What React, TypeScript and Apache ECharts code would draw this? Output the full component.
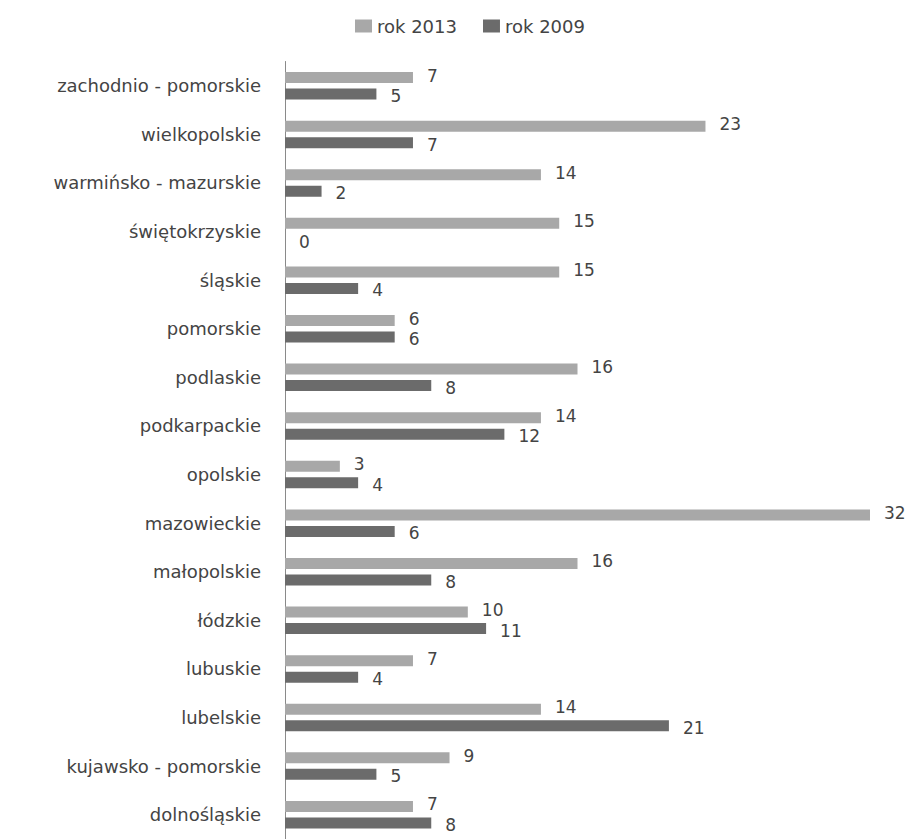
import React, { useEffect, useRef } from "react";
import * as echarts from "echarts";

const categories = [
  "zachodnio - pomorskie",
  "wielkopolskie",
  "warmińsko - mazurskie",
  "świętokrzyskie",
  "śląskie",
  "pomorskie",
  "podlaskie",
  "podkarpackie",
  "opolskie",
  "mazowieckie",
  "małopolskie",
  "łódzkie",
  "lubuskie",
  "lubelskie",
  "kujawsko - pomorskie",
  "dolnośląskie",
];
const rok2013 = [7, 23, 14, 15, 15, 6, 16, 14, 3, 32, 16, 10, 7, 14, 9, 7];
const rok2009 = [5, 7, 2, 0, 4, 6, 8, 12, 4, 6, 8, 11, 4, 21, 5, 8];

const FONT = "DejaVu Sans";
const TEXT = "#444444";

export default function App() {
  const ref = useRef<HTMLDivElement>(null);
  useEffect(() => {
    if (!ref.current) return;
    const chart = echarts.init(ref.current, undefined, { renderer: "svg" });
    const label = {
      show: true,
      position: "right" as const,
      distance: 14,
      color: TEXT,
      fontFamily: FONT,
      fontSize: 17,
      lineHeight: 17,
    };
    chart.setOption({
      animation: false,
      backgroundColor: "#ffffff",
      legend: {
        left: 350,
        top: 12,
        itemWidth: 17,
        itemHeight: 13,
        itemGap: 26,
        icon: "rect",
        textStyle: { color: TEXT, fontFamily: FONT, fontSize: 18 },
        data: ["rok 2013", "rok 2009"],
      },
      grid: { left: 285, right: 45, top: 61.5, bottom: -6.5, containLabel: false },
      xAxis: {
        type: "value",
        min: 0,
        max: 32,
        show: false,
        splitLine: { show: false },
      },
      yAxis: {
        type: "category",
        inverse: true,
        data: categories,
        axisLine: { show: true, lineStyle: { color: "#8a8a8a", width: 1 } },
        axisTick: { show: false },
        axisLabel: { color: TEXT, fontFamily: FONT, fontSize: 18, margin: 24 },
      },
      series: [
        {
          name: "rok 2013",
          type: "bar",
          data: rok2013,
          barWidth: 11,
          barGap: "50%",
          itemStyle: { color: "#a8a8a8" },
          label: { ...label, offset: [0, -2] },
        },
        {
          name: "rok 2009",
          type: "bar",
          data: rok2009,
          barWidth: 11,
          barGap: "50%",
          itemStyle: { color: "#6b6b6b" },
          label: { ...label, offset: [0, 2] },
        },
      ],
    });
    return () => chart.dispose();
  }, []);
  return (
    <div
      ref={ref}
      style={{ position: "fixed", left: 0, top: 0, width: 915, height: 839 }}
    />
  );
}
